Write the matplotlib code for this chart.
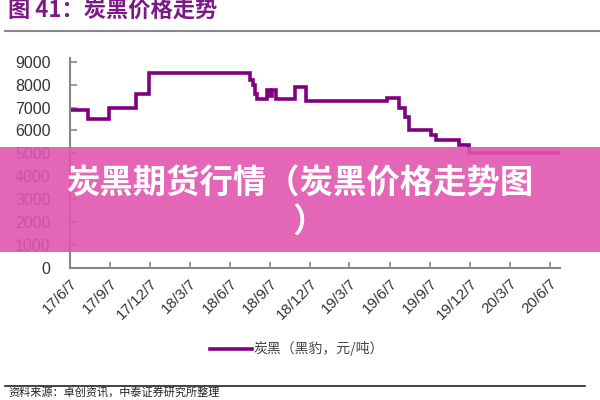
import matplotlib
matplotlib.use('Agg')
import matplotlib.pyplot as plt
from matplotlib.patches import Rectangle
from matplotlib.lines import Line2D
import pandas as pd

plt.rcParams['font.family'] = ['Noto Sans CJK SC', 'DejaVu Sans']

# ---- data ----
change_dates = ['2017-06-07', '2017-07-18', '2017-09-04', '2017-11-05', '2017-12-04',
                '2018-07-23', '2018-07-30', '2018-08-03', '2018-08-08', '2018-08-31',
                '2018-09-07', '2018-09-11', '2018-09-20', '2018-11-03', '2018-11-28',
                '2019-05-31', '2019-06-29', '2019-07-13', '2019-07-22', '2019-09-10',
                '2019-09-20', '2019-11-13', '2019-12-06', '2020-06-30']
prices = [6900, 6500, 7000, 7600, 8500,
          8200, 8000, 7600, 7350, 7750,
          7500, 7750, 7350, 7900, 7300,
          7400, 7000, 6600, 6000, 5800,
          5600, 5350, 5000, 5000]
tick_dates = ['2017-06-07', '2017-09-07', '2017-12-07', '2018-03-07', '2018-06-07',
              '2018-09-07', '2018-12-07', '2019-03-07', '2019-06-07', '2019-09-07',
              '2019-12-07', '2020-03-07', '2020-06-07']
tick_labels = ['17/6/7', '17/9/7', '17/12/7', '18/3/7', '18/6/7', '18/9/7', '18/12/7',
               '19/3/7', '19/6/7', '19/9/7', '19/12/7', '20/3/7', '20/6/7']
y_ticks = [0, 1000, 2000, 3000, 4000, 5000, 6000, 7000, 8000, 9000]
series_name = '炭黑（黑豹，元/吨）'
title_text = '图 41：炭黑价格走势'
banner_line1 = '炭黑期货行情（炭黑价格走势图'
banner_line2 = '）'
source_text = '资料来源：卓创资讯，中泰证券研究所整理'

x = pd.to_datetime(change_dates)
xt = pd.to_datetime(tick_dates)

fig = plt.figure(figsize=(6, 4), dpi=100)
fig.patch.set_facecolor('white')
ax = fig.add_axes([70/600, 132/400, 490/600, 210/400])

line, = ax.step(x, prices, where='post', color='#800080', lw=2.6, solid_joinstyle='miter')

ax.set_xlim(pd.Timestamp('2017-06-07'), pd.Timestamp('2020-06-30'))
ax.set_ylim(0, 9160)
ax.set_yticks(y_ticks)
ax.set_yticklabels([str(v) for v in y_ticks], family=['Liberation Sans', 'DejaVu Sans'],
                   fontsize=11.5, color='#333333')
ax.set_xticks(xt)
ax.set_xticklabels(tick_labels, family=['Liberation Sans', 'DejaVu Sans'], fontsize=11,
                   color='#333333', rotation=45, ha='right', rotation_mode='anchor')
ax.tick_params(axis='y', direction='in', length=5, width=1.2, color='#888888', pad=14)
ax.tick_params(axis='x', direction='in', length=4, width=1.2, color='#888888', pad=6)
for s in ['top', 'right']:
    ax.spines[s].set_visible(False)
for s in ['left', 'bottom']:
    ax.spines[s].set_color('#888888')
    ax.spines[s].set_linewidth(1.5)

leg = fig.legend([line], [series_name], loc='center', bbox_to_anchor=(297/600, 1-349/400),
                 frameon=False, fontsize=10, handlelength=3.0, handletextpad=0.1)
for t in leg.get_texts():
    t.set_color('#444444')

# title and rules
fig.text(8/600, 1-10/400, title_text, fontsize=16, color='#7B1A85', fontweight='bold',
         ha='left', va='center')
fig.add_artist(Line2D([5/600, 1.0], [1-31/400, 1-31/400], transform=fig.transFigure,
                      color='#888888', lw=1.5))
fig.add_artist(Line2D([5/600, 585/600], [1-386/400, 1-386/400], transform=fig.transFigure,
                      color='#222222', lw=1.2))
fig.text(8/600, 1-388/400, source_text, fontsize=8, color='#222222', ha='left', va='top')

# banner overlay
fig.add_artist(Rectangle((0, 1-252/400), 1, 105/400, transform=fig.transFigure,
                         facecolor='#E055B0', edgecolor='none', alpha=0.9, zorder=10))
fig.text(0.5, 1-184/400, banner_line1, fontsize=24, color='white', fontweight='bold',
         ha='center', va='center', zorder=11)
fig.text(0.515, 1-222/400, banner_line2, fontsize=24, color='white', fontweight='bold',
         ha='center', va='center', zorder=11)

fig.savefig('out.png', dpi=100)
